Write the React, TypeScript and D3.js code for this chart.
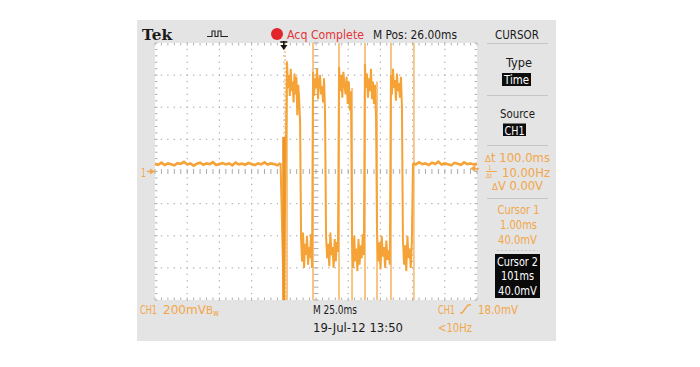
import React from "react";
import * as d3 from "d3";

// ---- data (time in ms relative to trigger, voltage in mV) ----
const timeDomain: [number, number] = [-100, 150];
const voltDomain: [number, number] = [-800, 800];
const majorTime = [-100, -75, -50, -25, 0, 25, 50, 75, 100, 125, 150];
const majorVolt = [-800, -600, -400, -200, 0, 200, 400, 600, 800];

const baselineLeftTimes = [-100, -97.5, -95, -92.5, -90, -87.5, -85, -82.5, -80, -77.5, -75, -72.5, -70, -67.5, -65, -62.5, -60, -57.5, -55, -52.5, -50, -47.5, -45, -42.5, -40, -37.5, -35, -32.5, -30, -27.5, -25, -22.5, -20, -17.5, -15, -12.5, -10, -7.5, -5, -2.5];
const baselineLeft = [48, 42, 55, 40, 50, 45, 38, 52, 47, 60, 44, 50, 36, 48, 55, 42, 50, 46, 58, 40, 47, 52, 44, 50, 38, 56, 45, 49, 42, 53, 47, 40, 51, 45, 57, 43, 50, 46, 39, 52];
const baselineRightTimes = [100.3, 102.5, 105, 107.5, 110, 112.5, 115, 117.5, 120, 122.5, 125, 127.5, 130, 132.5, 135, 137.5, 140, 142.5, 145, 147.5, 150];
const baselineRight = [52, 44, 58, 46, 50, 40, 55, 47, 61, 43, 50, 45, 38, 54, 48, 42, 57, 46, 50, 44, 49];

const burstEdges = [2.5, 13.4, 22.7, 32.8, 42.9, 53.0, 63.0, 72.4, 83.2, 92.5, 100.3];
const burst1 = [680, 520, 600, 470, 640, 500, 560, 430, 610, 480, 590, 350, 540, 450, 300];
const burst2 = [-420, -560, -380, -600, -450, -520, -400, -580, -470, -540, -390, -600];
const burst3 = [620, 470, 580, 520, 640, 450, 560, 600, 480, 530, 430, 580, 360];
const burst4 = [-400, -540, -450, -590, -380, -520, -470, -600, -420, -560, -440, -500];
const burst5 = [650, 500, 600, 460, 620, 540, 480, 590, 420, 560, 380, 500];
const burst6 = [-450, -600, -400, -560, -480, -620, -420, -580, -460, -540, -390, -520];
const burst7 = [670, 520, 610, 460, 580, 500, 640, 450, 560, 420, 540, 330];
const burst8 = [-380, -560, -440, -610, -400, -530, -470, -600, -430, -550, -490, -580];
const burst9 = [600, 480, 640, 520, 570, 440, 610, 500, 550, 460, 590, 400];
const burst10 = [-420, -580, -460, -620, -400, -540, -480, -600, -440];
const bursts = [burst1, burst2, burst3, burst4, burst5, burst6, burst7, burst8, burst9, burst10];

const glitchTimes = [2.5, 22.7, 42.9, 53.0, 63.0, 72.4, 83.2];
const glitchLow = [-800, -800, -800, -800, -800, -800, -800];
const glitchHigh = [690, 800, 800, 520, 800, 560, 800];

const triggerSpikeTime = 0;
const triggerSpikeLow = -800;
const triggerSpikeHigh = 215;
const cursorTimes = [1.0, 101.0];
const triggerLevel = 18;

const ORANGE = "#f5a236";
const ORANGE_TXT = "#f2a649";
const LIGHT = "#f7c483";
const FONT = "'Liberation Sans Narrow', 'Arial Narrow', 'DejaVu Sans Condensed', 'Liberation Sans', sans-serif";

const T = (p: any) => (
  <text
    x={p.x}
    y={p.y}
    textLength={p.w}
    lengthAdjust="spacingAndGlyphs"
    textAnchor={p.anchor || "start"}
    fill={p.fill || "#1a1a1a"}
    fontSize={p.size || 13}
    fontFamily={p.family || FONT}
    fontWeight={p.weight || "normal"}
  >
    {p.children}
  </text>
);

export default function App() {
  const x = d3.scaleLinear().domain(timeDomain).range([155, 477]);
  const y = d3.scaleLinear().domain(voltDomain).range([300, 43]);

  // trace points
  const leftPts: [number, number][] = baselineLeftTimes.map((t, i) => [t, baselineLeft[i]]);
  const burstPts: [number, number][] = [[triggerSpikeTime, triggerSpikeLow]];
  bursts.forEach((vals, b) => {
    const t0 = burstEdges[b], t1 = burstEdges[b + 1];
    vals.forEach((v, j) => burstPts.push([t0 + ((t1 - t0) * j) / vals.length, v]));
  });
  const rightPts: [number, number][] = baselineRightTimes.map((t, i) => [t, baselineRight[i]]);
  const line = d3.line<[number, number]>().x((d) => x(d[0])).y((d) => y(d[1]));
  const burstPath = line([leftPts[leftPts.length - 1], ...burstPts, rightPts[0]]) || "";
  const leftBase = line(leftPts) || "";
  const rightBase = line(rightPts) || "";

  // graticule
  const minorT = d3.range(timeDomain[0], timeDomain[1] + 0.01, 5);
  const minorV = d3.range(voltDomain[0], voltDomain[1] + 0.01, 40);
  const dots: React.ReactNode[] = [];
  majorTime.forEach((t, i) => {
    const isEdge = i === 0 || i === majorTime.length - 1;
    const isCenter = t === 25;
    minorV.forEach((v, j) => {
      const xx = x(t), yy = y(v);
      if (isCenter) {
        dots.push(<line key={`ct${i}-${j}`} x1={xx - 2.5} x2={xx + 2.5} y1={yy} y2={yy} stroke="#a9a9a9" strokeWidth={1} />);
      } else if (isEdge) {
        const dir = i === 0 ? 1 : -1;
        dots.push(<line key={`et${i}-${j}`} x1={xx} x2={xx + dir * 2.5} y1={yy} y2={yy} stroke="#b0b0b0" strokeWidth={1} />);
      } else {
        dots.push(<rect key={`dt${i}-${j}`} x={xx - 0.6} y={yy - 0.6} width={1.2} height={1.2} fill="#a9a9a9" />);
      }
    });
  });
  majorVolt.forEach((v, i) => {
    const isEdge = i === 0 || i === majorVolt.length - 1;
    const isCenter = v === 0;
    minorT.forEach((t, j) => {
      const xx = x(t), yy = y(v);
      if (isCenter) {
        dots.push(<line key={`cv${i}-${j}`} x1={xx} x2={xx} y1={yy - 2.5} y2={yy + 2.5} stroke="#a9a9a9" strokeWidth={1} />);
      } else if (isEdge) {
        const dir = i === 0 ? -1 : 1;
        dots.push(<line key={`ev${i}-${j}`} x1={xx} x2={xx} y1={yy} y2={yy + dir * 2.5} stroke="#b0b0b0" strokeWidth={1} />);
      } else {
        dots.push(<rect key={`dv${i}-${j}`} x={xx - 0.6} y={yy - 0.6} width={1.2} height={1.2} fill="#a9a9a9" />);
      }
    });
  });

  const trigY = y(triggerLevel);
  const gndY = y(0);
  const trigX = x(0);

  return (
    <svg width={700} height={367} style={{ position: "absolute", left: 0, top: 0, background: "#fff" }}>
      <rect x={0} y={0} width={700} height={367} fill="#ffffff" />
      <rect x={137} y={20} width={419} height={321} fill="#e4e4e4" />
      <rect x={x(timeDomain[0])} y={y(voltDomain[1])} width={x(timeDomain[1]) - x(timeDomain[0])} height={y(voltDomain[0]) - y(voltDomain[1])} fill="#ffffff" />
      <g>{dots}</g>

      {/* cursors */}
      <line x1={x(cursorTimes[0])} x2={x(cursorTimes[0])} y1={43} y2={300} stroke={LIGHT} strokeWidth={1.5} strokeDasharray="2 2" />
      <line x1={x(cursorTimes[1])} x2={x(cursorTimes[1])} y1={43} y2={300} stroke={LIGHT} strokeWidth={1.8} />

      {/* glitch lines */}
      {glitchTimes.map((t, i) => (
        <line key={`g${i}`} x1={x(t)} x2={x(t)} y1={y(glitchLow[i])} y2={y(glitchHigh[i])} stroke={LIGHT} strokeWidth={2} />
      ))}

      {/* trace */}
      <path d={burstPath} fill="none" stroke={ORANGE} strokeWidth={2} strokeLinejoin="bevel" />
      <path d={leftBase} fill="none" stroke={ORANGE} strokeWidth={2.6} />
      <path d={rightBase} fill="none" stroke={ORANGE} strokeWidth={2.6} />
      <line x1={x(triggerSpikeTime)} x2={x(triggerSpikeTime)} y1={y(triggerSpikeLow)} y2={y(triggerSpikeHigh)} stroke="#ee9526" strokeWidth={3.2} />

      {/* trigger position marker */}
      <line x1={trigX - 3.5} x2={trigX + 3.5} y1={42} y2={42} stroke="#111" strokeWidth={1.5} />
      <line x1={trigX} x2={trigX} y1={41} y2={46} stroke="#111" strokeWidth={1.5} />
      <polygon points={`${trigX - 3.5},45 ${trigX + 3.5},45 ${trigX},50`} fill="#111" />

      {/* ground marker */}
      <T x={141} y={176.5} w={5} fill={ORANGE_TXT} size={12}>1</T>
      <line x1={147} x2={151} y1={gndY} y2={gndY} stroke={ORANGE_TXT} strokeWidth={1.5} />
      <polygon points={`${150},${gndY - 3} ${150},${gndY + 3} ${155},${gndY}`} fill={ORANGE_TXT} />
      {/* trigger level marker */}
      <polygon points={`${470},${trigY} ${475.5},${trigY - 3.5} ${475.5},${trigY + 3.5}`} fill={ORANGE_TXT} />
      <line x1={475} x2={479} y1={trigY} y2={trigY} stroke={ORANGE_TXT} strokeWidth={1.5} />

      {/* top bar */}
      <T x={142} y={40} w={30} size={15} weight="bold" family="'DejaVu Serif', 'Liberation Serif', serif">Tek</T>
      <path d="M207,36.5 H212 V31 H215 V36.5 H218 V31 H221 V36.5 H228" fill="none" stroke="#222" strokeWidth={1.1} />
      <circle cx={277} cy={34} r={6} fill="#e0262a" />
      <T x={287} y={38.5} w={77} fill="#e2373a">Acq Complete</T>
      <T x={373} y={38.5} w={84}>M Pos: 26.00ms</T>
      <T x={495} y={38.5} w={44}>CURSOR</T>

      {/* right menu */}
      <line x1={487} x2={548} y1={43.5} y2={43.5} stroke="#c6c6c6" strokeWidth={1} />
      <T x={519} y={66.5} w={26} anchor="middle">Type</T>
      <rect x={502} y={73} width={29} height={13} fill="#0d0d0d" />
      <T x={516.5} y={84} w={25} anchor="middle" fill="#fff">Time</T>
      <line x1={487} x2={548} y1={95.5} y2={95.5} stroke="#c6c6c6" strokeWidth={1} />
      <T x={517.5} y={118} w={35} anchor="middle">Source</T>
      <rect x={503} y={123.5} width={23} height={12.5} fill="#0d0d0d" />
      <T x={514.5} y={134.5} w={20} anchor="middle" fill="#fff">CH1</T>
      <line x1={487} x2={548} y1={145.5} y2={145.5} stroke="#c6c6c6" strokeWidth={1} />

      <text x={485} y={162} fill={ORANGE_TXT} fontFamily={FONT} fontSize={12} textLength={65} lengthAdjust="spacingAndGlyphs">
        <tspan fontSize={9}>Δ</tspan>t 100.0ms
      </text>
      <text x={488} y={170} fill={ORANGE_TXT} fontFamily={FONT} fontSize={6.5}>1</text>
      <line x1={486} x2={497} y1={171.5} y2={171.5} stroke={ORANGE_TXT} strokeWidth={1} />
      <text x={486} y={177.5} fill={ORANGE_TXT} fontFamily={FONT} fontSize={6.5}>Δt</text>
      <T x={502} y={176.5} w={48} size={12} fill={ORANGE_TXT}>10.00Hz</T>
      <text x={492} y={190} fill={ORANGE_TXT} fontFamily={FONT} fontSize={12} textLength={51} lengthAdjust="spacingAndGlyphs">
        <tspan fontSize={9}>Δ</tspan>V 0.00V
      </text>
      <line x1={487} x2={548} y1={198.5} y2={198.5} stroke="#c6c6c6" strokeWidth={1} />

      <T x={518.5} y={214} w={42} anchor="middle" fill={ORANGE_TXT}>Cursor 1</T>
      <T x={518.5} y={229} w={37} anchor="middle" fill={ORANGE_TXT}>1.00ms</T>
      <T x={517.5} y={244} w={39} anchor="middle" fill={ORANGE_TXT}>40.0mV</T>
      <line x1={497} x2={538} y1={250.5} y2={250.5} stroke="#c6c6c6" strokeWidth={1} strokeDasharray="2 2" />
      <rect x={495} y={254} width={45} height={44} fill="#0a0a0a" />
      <T x={517.5} y={265.5} w={41} anchor="middle" fill="#fff">Cursor 2</T>
      <T x={517.5} y={280} w={33} anchor="middle" fill="#fff">101ms</T>
      <T x={517.5} y={294.5} w={39} anchor="middle" fill="#fff">40.0mV</T>

      {/* bottom status */}
      <T x={140} y={313.5} w={17} fill={ORANGE_TXT}>CH1</T>
      <text x={163} y={313.5} fill={ORANGE_TXT} fontFamily={FONT} fontSize={13} textLength={56} lengthAdjust="spacingAndGlyphs">
        200mV<tspan fontSize={11}>B</tspan><tspan fontSize={8} dy={2.5}>w</tspan>
      </text>
      <T x={313} y={313.5} w={44}>M 25.0ms</T>
      <T x={313} y={332} w={90}>19-Jul-12 13:50</T>
      <T x={438} y={313.5} w={17} fill={ORANGE_TXT}>CH1</T>
      <path d="M460,313 H462 L468,305 H471" fill="none" stroke={ORANGE_TXT} strokeWidth={1.3} />
      <T x={478} y={313.5} w={40} fill={ORANGE_TXT}>18.0mV</T>
      <T x={438} y={332} w={34} fill={ORANGE_TXT}>&lt;10Hz</T>
    </svg>
  );
}
